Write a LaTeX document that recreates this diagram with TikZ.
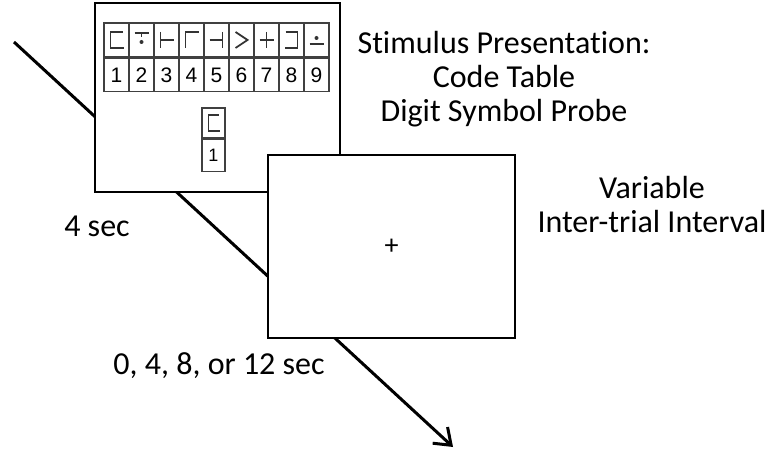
\documentclass[tikz,border=0pt]{standalone}
\usepackage{fontspec}
\setmainfont{Carlito}[Ligatures=NoCommon]
\newfontfamily\cellfont{Liberation Sans}
\usetikzlibrary{positioning,arrows.meta}

\tikzset{
  screen/.style={draw, line width=2.6pt, fill=white, inner sep=0pt},
  cell/.style={draw=black!75, line width=1.4pt, minimum width=25pt, inner sep=0pt,
    font=\cellfont\fontsize{21}{21}\selectfont},
  caption/.style={font=\fontsize{32}{34}\selectfont, align=center},
  glyph/.style={line width=1.8pt, black!80},
}

\begin{document}
\begin{tikzpicture}[x=1pt, y=-1pt]
\useasboundingbox (0,0) rectangle (776,454);

% timeline
\coordinate (start) at (14,42);
\coordinate (end) at (453,447);
\draw[line width=3pt, -{Straight Barb[length=15pt,width=22pt]}] (start) -- (end);

% screens
\node[screen, minimum width=245pt, minimum height=189pt] (S1) at (217.5,97.5) {};
\node[screen, minimum width=247pt, minimum height=183pt] (S2) at (391.5,246.5) {};
\node[font=\fontsize{28}{28}\selectfont] (fix) at (S2.center) {+};

% code table
\foreach \i in {1,...,9} {
  \node[cell, minimum height=34pt] (sym\i) at (91.5+25*\i,40) {};
  \node[cell, minimum height=33pt, below=0pt of sym\i] (dig\i) {\i};
}
\draw[glyph] ([shift={(6,-8)}]sym1.center) -- ++(-12,0) -- ++(0,16) -- ++(13,0);
\draw[glyph] ([shift={(-7,-7)}]sym2.center) -- ++(14,0) (sym2.center) ++(0,-7) -- ++(0,4);
\fill[black!80] ([shift={(0,2)}]sym2.center) circle (2pt);
\draw[glyph] ([shift={(-6,-8)}]sym3.center) -- ++(0,16) ([shift={(-6,0)}]sym3.center) -- ++(13,0);
\draw[glyph] ([shift={(-6,8)}]sym4.center) -- ++(0,-16) -- ++(13,0);
\draw[glyph] ([shift={(-7,0)}]sym5.center) -- ++(13,0) ([shift={(6,-8)}]sym5.center) -- ++(0,16);
\draw[glyph] ([shift={(-6,-8)}]sym6.center) -- ++(12,8) -- ++(-12,8);
\draw[glyph] ([shift={(-7,0)}]sym7.center) -- ++(14,0) ([shift={(0,-8)}]sym7.center) -- ++(0,16);
\draw[glyph] ([shift={(-6,-8)}]sym8.center) -- ++(12,0) -- ++(0,16) -- ++(-13,0);
\fill[black!80] ([shift={(0,-2)}]sym9.center) circle (2pt);
\draw[glyph] ([shift={(-7,4)}]sym9.center) -- ++(14,0);

% probe
\node[cell, minimum width=23pt, minimum height=30pt] (psym) at (213.5,123) {};
\node[cell, minimum width=23pt, minimum height=32pt, below=0pt of psym,
  font=\cellfont\fontsize{18}{18}\selectfont] (pdig) {1};
\draw[glyph] ([shift={(5,-8)}]psym.center) -- ++(-10,0) -- ++(0,16) -- ++(11,0);

% labels
\node[caption] (stim) at (504,79) {Stimulus Presentation:\\Code Table\\Digit Symbol Probe};
\node[caption] (iti) at (652,205) {Variable\\Inter-trial Interval};
\node[caption] (t1) at (97,226) {4 sec};
\node[caption] (t2) at (219,366) {0, 4, 8, or 12 sec};
\end{tikzpicture}
\end{document}
